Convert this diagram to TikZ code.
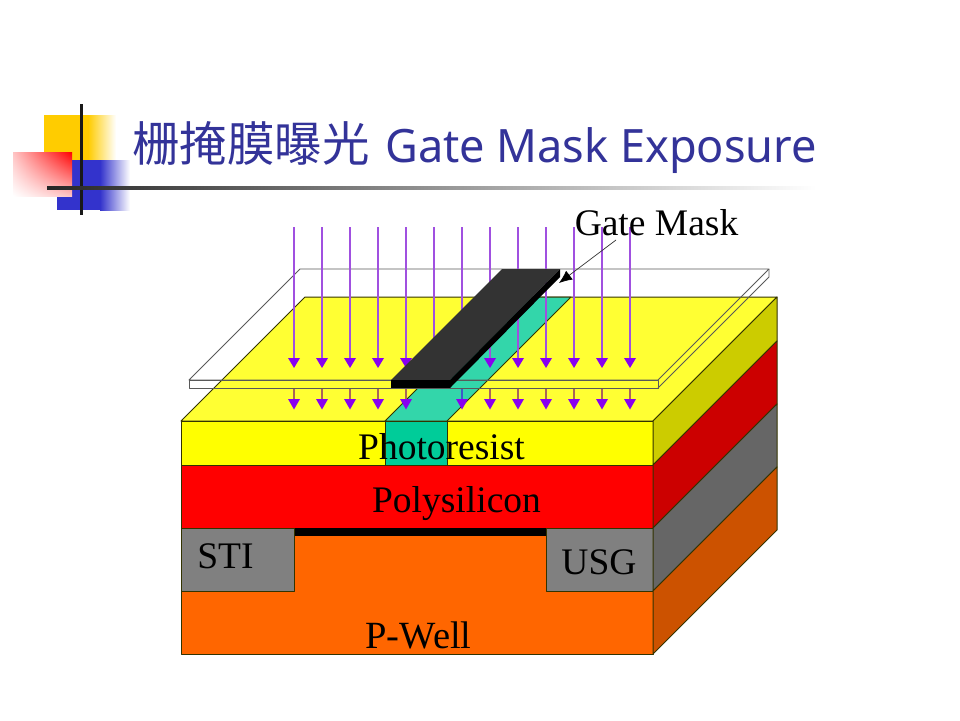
\documentclass[tikz,border=0pt]{standalone}
\usepackage{fontspec}
\setmainfont{Liberation Serif}
\newfontfamily\titlefont{Noto Sans}
\newfontfamily\cjkfont{Noto Sans CJK SC}
\usetikzlibrary{arrows.meta,shadings}
\definecolor{titleblue}{HTML}{333399}
\definecolor{purp}{HTML}{A050E0}
\definecolor{purphead}{HTML}{8800F0}
\definecolor{edge}{HTML}{333300}
\definecolor{logoyellow}{HTML}{FFCC00}
\definecolor{logoblue}{HTML}{3333CC}
\definecolor{logored}{HTML}{FFC4C4}
\definecolor{topyellow}{HTML}{FFFF33}
\definecolor{frontyellow}{HTML}{FFFF00}
\definecolor{frontred}{HTML}{FF0000}
\definecolor{topgreen}{HTML}{33D6AA}
\definecolor{frontgreen}{HTML}{00CC99}
\definecolor{frontorange}{HTML}{FF6600}
\definecolor{frontgray}{HTML}{808080}
\definecolor{sideyellow}{HTML}{CCCC00}
\definecolor{sidered}{HTML}{CC0000}
\definecolor{sidegray}{HTML}{666666}
\definecolor{sideorange}{HTML}{CC5200}
\definecolor{maskgray}{HTML}{333333}
\definecolor{lowray}{HTML}{AA645A}
\definecolor{lowrayblue}{HTML}{3C5AC8}
\tikzset{
  x=1pt,y=-1pt,
  face/.style={draw=edge,line width=1pt,line join=round},
  lab/.style={font=\fontsize{37.5}{37.5}\selectfont,anchor=base,inner sep=0pt,text=black},
  ray/.style={purp,line width=1.3pt},
  rayhead/.style={fill=purphead,draw=none},
  glass/.style={draw=black!65,line width=0.9pt,line join=round},
}
\begin{document}
\begin{tikzpicture}
\useasboundingbox (0,0) rectangle (960,720);
\fill[white] (0,0) rectangle (960,720);
% logo
\fill[logoyellow] (44,115) rectangle (88,160);
\shade[left color=logoyellow,right color=white] (88,115) rectangle (116,160);
\fill[logoblue] (57,160) rectangle (100,210);
\shade[left color=logoblue,right color=white] (100,160) rectangle (130,210);
\shade[lower left=white,upper right=frontred,lower right=logored,upper left=logored] (13,152) rectangle (72,196);
\fill[black!90] (79.5,104) rectangle (82.5,215);
\shade[left color=black!85,right color=white] (47,186.5) rectangle (816,189.5);
% title
\node[inner sep=0pt,anchor=base west,text=titleblue,font=\fontsize{47.5}{47.5}\selectfont\cjkfont] (titlecjk) at (132,161) {栅掩膜曝光};
\node[inner sep=0pt,anchor=base west,text=titleblue,font=\fontsize{46}{46}\selectfont\titlefont,xscale=0.98] (titlelatin) at (385,162) {Gate Mask Exposure};
% block
\path[face,fill=topyellow] (181,421)--(653,421)--(777,297)--(305,297)--cycle;
\path[face,fill=topgreen] (385,421)--(447,421)--(571,297)--(509,297)--cycle;
\path[face,fill=frontyellow] (181,421) rectangle (653,465);
\path[fill=frontgreen] (385,421) rectangle (447,465);
\draw[edge,line width=0.7pt] (385,465)--(385,421)--(447,421)--(447,465);
\path[face,fill=frontred] (181,465) rectangle (653,528);
\path[face,fill=frontorange] (181,528) rectangle (653,654);
\fill[black] (294,528) rectangle (546,536);
\path[face,fill=frontgray] (181,528) rectangle (294,591);
\path[face,fill=frontgray] (546,528) rectangle (653,591);
\path[face,fill=sideyellow] (653,421)--(777,297)--(777,341)--(653,465)--cycle;
\path[face,fill=sidered] (653,465)--(777,341)--(777,404)--(653,528)--cycle;
\path[face,fill=sidegray] (653,528)--(777,404)--(777,467)--(653,591)--cycle;
\path[face,fill=sideorange] (653,591)--(777,467)--(777,530)--(653,654)--cycle;
% glass outline
\draw[glass] (189,380)--(300,269)--(769,269)--(658,380)--cycle;
\draw[glass] (189,380) rectangle (658,388);
\draw[glass] (658,388)--(769,277)--(769,269);
% rays
\foreach \x in {294,322,350,378,406,434,462,490,518,546,574,602,630}{
  \draw[ray] (\x,227)--(\x,360);
}
\foreach \x in {294,322,350,378,406,490,518,546,574,602,630}{
  \fill[rayhead] (\x-6,358)--(\x+6,358)--(\x,368)--cycle;
}
\foreach \x in {294,322,350,378,406,490,518,546,574,602,630}{
  \draw[lowray,line width=1.2pt] (\x,388.5)--(\x,401);
}
\draw[lowrayblue,line width=1.2pt] (462,388.5)--(462,401);
\foreach \x in {294,322,350,378,406,462,490,518,546,574,602,630}{
  \fill[rayhead] (\x-6,399)--(\x+6,399)--(\x,409.5)--cycle;
}
% gate mask
\path[fill=maskgray] (391,380)--(450,380)--(560,269)--(502,269)--cycle;
\path[fill=black] (391,380) rectangle (450,388);
\path[fill=black] (450,380)--(560,269)--(560,277)--(450,388)--cycle;
% labels
\node[lab] (photo) at (441.5,459) {Photoresist};
\node[lab] (poly) at (456.5,512) {Polysilicon};
\node[lab] (sti) at (225.5,568) {STI};
\node[lab] (usg) at (599,574) {USG};
\node[lab,font=\fontsize{38.5}{38.5}\selectfont] (well) at (418.5,648) {P-Well};
\node[lab] (gm) at (656.5,235) {Gate Mask};
\coordinate (gmstart) at (616,240);
\coordinate (gmtip) at (559,283);
\draw[black!80,line width=0.7pt,-{Latex[length=13pt,width=11pt,black]}] (gmstart)--(gmtip);
\end{tikzpicture}
\end{document}
